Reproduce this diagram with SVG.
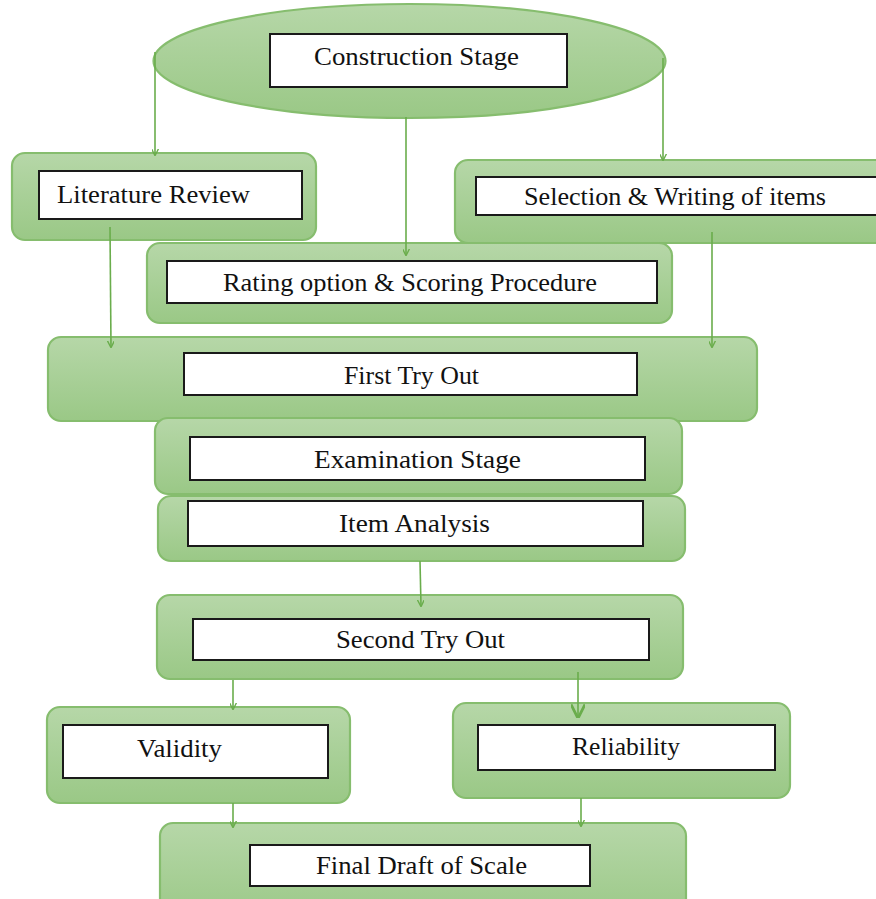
<svg xmlns="http://www.w3.org/2000/svg" width="876" height="899" viewBox="0 0 876 899">
<defs>
<linearGradient id="g" x1="0" y1="0" x2="0" y2="1">
<stop offset="0" stop-color="#b6d7a8"/>
<stop offset="1" stop-color="#9ac886"/>
</linearGradient>
<marker id="ah" viewBox="0 0 10 10" refX="9" refY="5" markerWidth="7" markerHeight="7" orient="auto" markerUnits="userSpaceOnUse">
<path d="M0,0 L10,5 L0,10" fill="none" stroke="#6aad4c" stroke-width="2"/>
</marker>
<marker id="ah2" viewBox="0 0 10 10" refX="9" refY="5" markerWidth="14" markerHeight="14" orient="auto" markerUnits="userSpaceOnUse">
<path d="M0,0 L10,5 L0,10" fill="none" stroke="#6aad4c" stroke-width="2"/>
</marker>
</defs>
<style>
.o{fill:url(#g);stroke:#86bd6e;stroke-width:2.2}
.i{fill:#fff;stroke:#1a1a1a;stroke-width:2}
.t{font-family:"Liberation Serif","Times New Roman",serif;font-size:25px;fill:#111;text-anchor:middle}
.c{fill:none;stroke:#6aad4c;stroke-width:1.6}
</style>
<rect width="876" height="899" fill="#fff"/>
<g id="construction">
<ellipse class="o" cx="409.5" cy="61" rx="256" ry="57"/>
<rect class="i" x="270" y="34" width="297" height="53"/>
<text class="t" x="416.5" y="65" textLength="205" lengthAdjust="spacingAndGlyphs">Construction Stage</text>
</g>
<g id="literature">
<rect class="o" x="12" y="153" width="304" height="87" rx="13"/>
<rect class="i" x="39" y="171" width="263" height="48"/>
<text class="t" x="153.5" y="203" textLength="193" lengthAdjust="spacingAndGlyphs">Literature Review</text>
</g>
<g id="selection">
<rect class="o" x="455" y="160" width="440" height="83" rx="13"/>
<rect class="i" x="476" y="177" width="410" height="38"/>
<text class="t" x="675" y="205" textLength="302" lengthAdjust="spacingAndGlyphs">Selection &amp; Writing of items</text>
</g>
<g id="rating">
<rect class="o" x="147" y="243" width="525" height="80" rx="13"/>
<rect class="i" x="167" y="261" width="490" height="42"/>
<text class="t" x="410" y="291" textLength="374" lengthAdjust="spacingAndGlyphs">Rating option &amp; Scoring Procedure</text>
</g>
<g id="first">
<rect class="o" x="48" y="337" width="709" height="84" rx="13"/>
<rect class="i" x="184" y="353" width="453" height="42"/>
<text class="t" x="411.5" y="384" textLength="135" lengthAdjust="spacingAndGlyphs">First Try Out</text>
</g>
<g id="examination">
<rect class="o" x="155" y="418" width="527" height="76" rx="13"/>
<rect class="i" x="190" y="437" width="455" height="43"/>
<text class="t" x="417.5" y="468" textLength="207" lengthAdjust="spacingAndGlyphs">Examination Stage</text>
</g>
<g id="item">
<rect class="o" x="158" y="496" width="527" height="65" rx="13"/>
<rect class="i" x="188" y="501" width="455" height="45"/>
<text class="t" x="414.5" y="532" textLength="151" lengthAdjust="spacingAndGlyphs">Item Analysis</text>
</g>
<g id="second">
<rect class="o" x="157" y="595" width="526" height="84" rx="13"/>
<rect class="i" x="193" y="619" width="456" height="41"/>
<text class="t" x="420.5" y="648" textLength="169" lengthAdjust="spacingAndGlyphs">Second Try Out</text>
</g>
<g id="validity">
<rect class="o" x="47" y="707" width="303" height="96" rx="13"/>
<rect class="i" x="63" y="725" width="265" height="53"/>
<text class="t" x="179.5" y="757" textLength="85" lengthAdjust="spacingAndGlyphs">Validity</text>
</g>
<g id="reliability">
<rect class="o" x="453" y="703" width="337" height="95" rx="13"/>
<rect class="i" x="478" y="725" width="297" height="45"/>
<text class="t" x="626" y="755" textLength="108" lengthAdjust="spacingAndGlyphs">Reliability</text>
</g>
<g id="final">
<rect class="o" x="160" y="823" width="526" height="100" rx="13"/>
<rect class="i" x="250" y="845" width="340" height="41"/>
<text class="t" x="421.5" y="874" textLength="211" lengthAdjust="spacingAndGlyphs">Final Draft of Scale</text>
</g>
<g id="connectors">
<line class="c" x1="155" y1="52" x2="155" y2="155" marker-end="url(#ah)"/>
<line class="c" x1="663" y1="58" x2="663" y2="160" marker-end="url(#ah)"/>
<line class="c" x1="406" y1="117" x2="406" y2="255" marker-end="url(#ah)"/>
<line class="c" x1="110" y1="227" x2="111" y2="347" marker-end="url(#ah)"/>
<line class="c" x1="712" y1="232" x2="712" y2="347" marker-end="url(#ah)"/>
<line class="c" x1="420" y1="561" x2="421" y2="606" marker-end="url(#ah)"/>
<line class="c" x1="233" y1="680" x2="233" y2="709" marker-end="url(#ah)"/>
<line class="c" x1="578" y1="672" x2="578" y2="717" stroke-width="2.5" marker-end="url(#ah2)"/>
<line class="c" x1="233" y1="803" x2="233" y2="827" marker-end="url(#ah)"/>
<line class="c" x1="581" y1="798" x2="581" y2="826" marker-end="url(#ah)"/>
</g>
</svg>
